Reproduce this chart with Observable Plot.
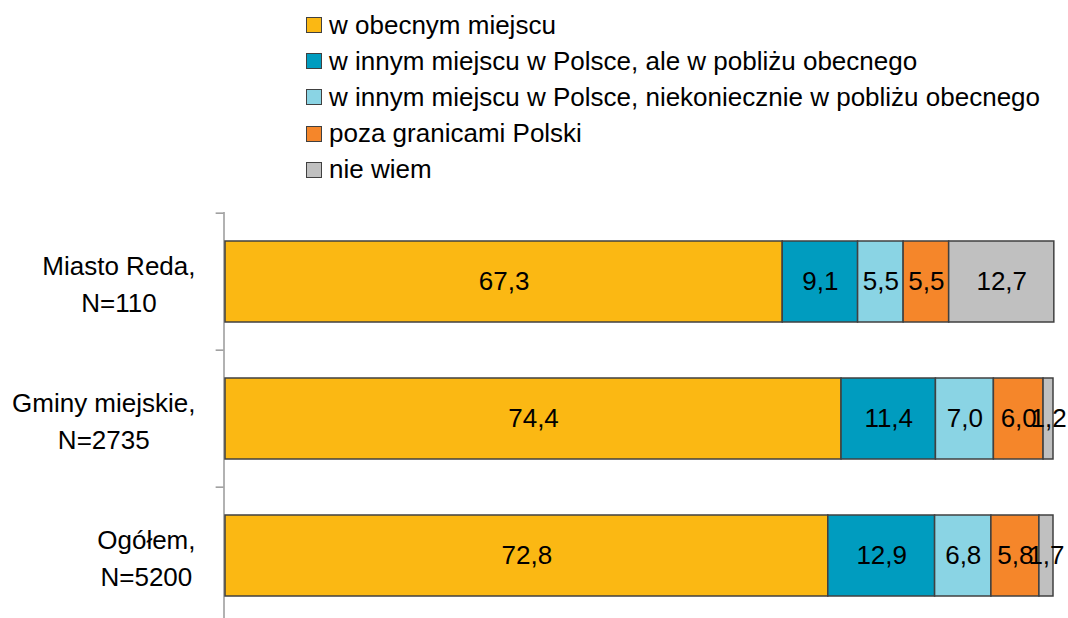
<!DOCTYPE html>
<html>
<head>
<meta charset="utf-8">
<script src="https://cdn.jsdelivr.net/npm/d3@7"></script>
<script src="https://cdn.jsdelivr.net/npm/@observablehq/plot@0.6"></script>
<style>
  html, body { margin: 0; padding: 0; background: #fff; overflow: hidden; width: 1068px; height: 618px; }
  body { font-family: "Liberation Sans", Arial, sans-serif; }
  #legend { position: absolute; left: 306px; top: 7px; }
  .row { display: flex; align-items: center; height: 36.2px; font-size: 26px; color: #000; white-space: nowrap; }
  .sw { width: 14px; height: 14px; border: 1.5px solid #404040; margin-right: 7px; flex: none; }
  #chart { position: absolute; left: 0; top: 200px; }
</style>
</head>
<body>
<div id="legend"></div>
<div id="chart"></div>
<script>
const categories = ["Miasto Reda", "Gminy miejskie", "Ogółem"];
const categoryLabels = ["Miasto Reda,\nN=110", "Gminy miejskie,\nN=2735", "Ogółem,\nN=5200"];
const seriesNames = [
  "w obecnym miejscu",
  "w innym miejscu w Polsce, ale w pobliżu obecnego",
  "w innym miejscu w Polsce, niekoniecznie w pobliżu obecnego",
  "poza granicami Polski",
  "nie wiem"
];
const seriesColors = ["#FBB813", "#009CBF", "#8AD4E4", "#F5862A", "#C0C0C0"];
const obecne = [67.3, 74.4, 72.8];
const pobliskie = [9.1, 11.4, 12.9];
const niekoniecznie = [5.5, 7.0, 6.8];
const zagranica = [5.5, 6.0, 5.8];
const nieWiem = [12.7, 1.2, 1.7];
const seriesValues = [obecne, pobliskie, niekoniecznie, zagranica, nieWiem];

const data = [];
categories.forEach((c, ci) => {
  seriesNames.forEach((s, si) => {
    data.push({cat: c, series: s, value: seriesValues[si][ci]});
  });
});
const fmt = v => v.toFixed(1).replace(".", ",");

// Legend
const legend = document.getElementById("legend");
seriesNames.forEach((s, i) => {
  const row = document.createElement("div");
  row.className = "row";
  const sw = document.createElement("span");
  sw.className = "sw";
  sw.style.background = seriesColors[i];
  const t = document.createElement("span");
  t.textContent = s;
  row.appendChild(sw);
  row.appendChild(t);
  legend.appendChild(row);
});

const labelOf = Object.fromEntries(categories.map((c, i) => [c, categoryLabels[i]]));
const H = 425, MT = 12, MB = 0;
const step = (H - MT - MB) / categories.length;

const chart = Plot.plot({
  width: 1068,
  height: H,
  marginLeft: 225,
  marginRight: 15,
  marginTop: MT,
  marginBottom: MB,
  style: {fontFamily: "'Liberation Sans', Arial, sans-serif", fontSize: "26px", background: "#fff", overflow: "visible"},
  x: {domain: [0, 100], axis: null},
  y: {domain: categories, axis: null, paddingInner: 0.41, paddingOuter: 0.205},
  color: {domain: seriesNames, range: seriesColors},
  marks: [
    Plot.text(categories, {y: d => d, text: d => labelOf[d], frameAnchor: "left", dx: -30, textAnchor: "end", lineHeight: 1.42, fontSize: 26, fill: "#000"}),
    Plot.ruleX([0], {stroke: "#999", strokeWidth: 1.5, dx: -1.5}),
    Plot.ruleY(categories, {y: d => d, x1: -0.95, x2: 0, dx: -1.5, dy: -step / 2, stroke: "#999", strokeWidth: 1.5}),
    Plot.barX(data, Plot.stackX({x: "value", y: "cat", z: "series", fill: "series", stroke: "#404040", strokeWidth: 1.5})),
    Plot.text(data, Plot.stackX({x: "value", y: "cat", z: "series", text: d => fmt(d.value), fontSize: 26, fill: "#000"}))
  ]
});
document.getElementById("chart").appendChild(chart);

// center lines of each y label within its right-aligned block
const g = chart.querySelectorAll('g[aria-label="text"]')[0];
if (g) {
  g.querySelectorAll("text").forEach(t => {
    const spans = t.querySelectorAll("tspan");
    if (spans.length < 2) return;
    const ws = Array.from(spans).map(s => s.getComputedTextLength());
    const W = Math.max(...ws);
    t.setAttribute("text-anchor", "middle");
    spans.forEach(s => s.setAttribute("x", -W / 2));
  });
}
</script>
</body>
</html>
